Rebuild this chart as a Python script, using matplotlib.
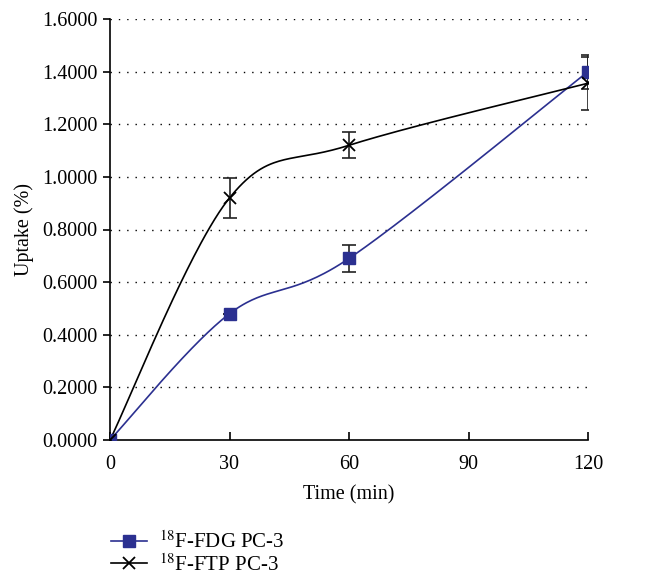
import numpy as np
import matplotlib
matplotlib.use("Agg")
import matplotlib.pyplot as plt

time_min = [0, 30, 60, 120]
fdg_uptake = [0.0, 0.48, 0.69, 1.40]
fdg_err = [0.0, 0.0, 0.05, 0.065]
ftp_uptake = [0.0, 0.92, 1.12, 1.356]
ftp_err = [0.0, 0.075, 0.05, 0.10]
xticks = [0, 30, 60, 90, 120]
yticks = [0.0, 0.2, 0.4, 0.6, 0.8, 1.0, 1.2, 1.4, 1.6]
labels = ["$^{18}$F-FDG PC-3", "$^{18}$F-FTP PC-3"]

plt.rcParams['font.family'] = ['Liberation Serif', 'DejaVu Serif']
plt.rcParams['mathtext.fontset'] = 'stix'

fig = plt.figure(figsize=(6.48, 5.75), dpi=100)
ax = fig.add_axes([110/648, 1-440/575, (588-110)/648, (440-19)/575])
ax.set_xlim(0, 120)
ax.set_ylim(0, 1.6)

def smooth(ax, xs, ys, n=60):
    # Excel-style Bezier smoothing, computed in display space
    pts = ax.transData.transform(np.column_stack([xs, ys]))
    m = len(pts)
    out = []
    for i in range(m - 1):
        p0 = pts[max(i - 1, 0)]
        p1 = pts[i]
        p2 = pts[i + 1]
        p3 = pts[min(i + 2, m - 1)]
        c1 = p1 + (p2 - p0) / 6.0
        c2 = p2 - (p3 - p1) / 6.0
        t = np.linspace(0, 1, n)[:, None]
        seg = ((1 - t) ** 3) * p1 + 3 * ((1 - t) ** 2) * t * c1 + 3 * (1 - t) * t ** 2 * c2 + t ** 3 * p2
        out.append(seg if i == 0 else seg[1:])
    out = np.vstack(out)
    data = ax.transData.inverted().transform(out)
    return data[:, 0], data[:, 1]

for y in yticks[1:]:
    ax.axhline(y, color='black', lw=1.0, ls=(0, (1, 5)), zorder=0)

navy = '#2B3090'
sx, sy = smooth(ax, time_min, fdg_uptake)
ax.plot(sx, sy, color=navy, lw=1.2, zorder=2)
sx2, sy2 = smooth(ax, time_min, ftp_uptake)
ax.plot(sx2, sy2, color='black', lw=1.2, zorder=2)

ax.errorbar(time_min, fdg_uptake, yerr=fdg_err, fmt='none', ecolor='#222222', elinewidth=1.2, capsize=5, capthick=1.2, zorder=3)
ax.errorbar(time_min, ftp_uptake, yerr=ftp_err, fmt='none', ecolor='#222222', elinewidth=1.2, capsize=5, capthick=1.2, zorder=3)
ax.plot(time_min, fdg_uptake, ls='none', marker='s', ms=8, color=navy, mec=navy, zorder=4)
ax.plot(time_min, ftp_uptake, ls='none', marker='x', ms=9, mew=1.3, color='black', zorder=4)

ax.spines['top'].set_visible(False)
ax.spines['right'].set_visible(False)
ax.spines['left'].set_linewidth(1.2)
ax.spines['bottom'].set_linewidth(1.2)
ax.set_xticks(xticks)
ax.set_yticks(yticks)
ax.set_yticklabels([f"{v:.4f}" for v in yticks])
ax.tick_params(axis='x', direction='in', length=6, width=1.2, labelsize=14.5, pad=11)
ax.tick_params(axis='y', direction='out', length=5, width=1.2, labelsize=14.5, pad=4)
ax.set_xlabel("Time (min)", fontsize=14.5, labelpad=8)
ax.set_ylabel("Uptake (%)", fontsize=14.5, labelpad=6)

from matplotlib.lines import Line2D
h1 = Line2D([], [], color=navy, lw=1.2, marker='s', ms=8)
h2 = Line2D([], [], color='black', lw=1.2, marker='x', ms=9, mew=1.3)
fig.legend([h1, h2], labels, loc='upper left', bbox_to_anchor=(103/648, 1-523/575),
           frameon=False, fontsize=15, handlelength=1.7, handletextpad=0.6, labelspacing=0.05, borderaxespad=0)

fig.savefig("out.png", dpi=100)
